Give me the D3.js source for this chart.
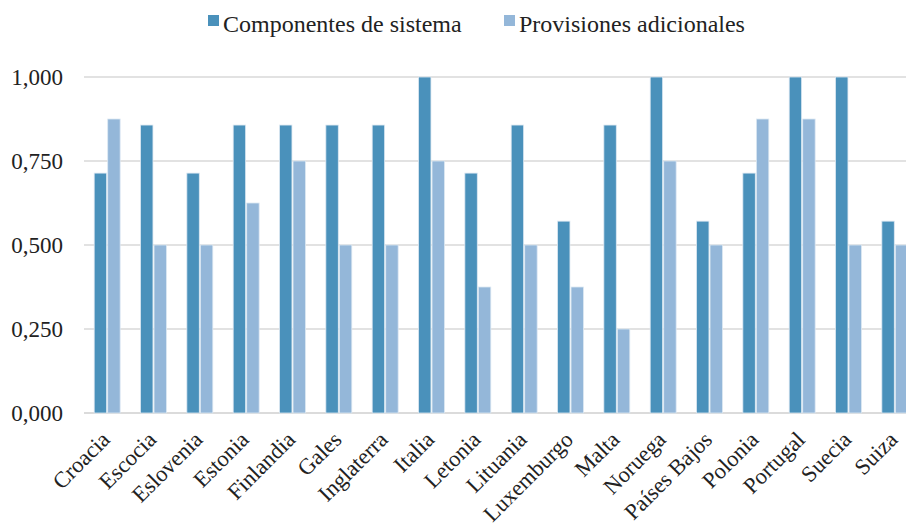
<!DOCTYPE html>
<html>
<head>
<meta charset="utf-8">
<script src="https://cdn.jsdelivr.net/npm/d3@7/dist/d3.min.js"></script>
<style>
  body { margin: 0; background: #fff; }
  svg text { font-family: "Liberation Serif", "DejaVu Serif", serif; }
</style>
</head>
<body>
<div id="plot"></div>
<script>
// Data
const countries = ["Croacia", "Escocia", "Eslovenia", "Estonia", "Finlandia", "Gales",
    "Inglaterra", "Italia", "Letonia", "Lituania", "Luxemburgo", "Malta", "Noruega",
    "Países Bajos", "Polonia", "Portugal", "Suecia", "Suiza"];
const seriesNames = ["Componentes de sistema", "Provisiones adicionales"];
const componentes = [0.714, 0.857, 0.714, 0.857, 0.857, 0.857, 0.857, 1.0, 0.714,
    0.857, 0.571, 0.857, 1.0, 0.571, 0.714, 1.0, 1.0, 0.571];
const provisiones = [0.875, 0.5, 0.5, 0.625, 0.75, 0.5, 0.5, 0.75, 0.375,
    0.5, 0.375, 0.25, 0.75, 0.5, 0.875, 0.875, 0.5, 0.5];
const yTicks = [0, 0.25, 0.5, 0.75, 1];

const colors = ["#4a91bb", "#94b7d9"];
const W = 906, H = 527;
const margin = { top: 77, left: 84, bottom: 114 };
const plotRight = 918;

const svg = d3.select("#plot").append("svg")
    .attr("width", W)
    .attr("height", H)
    .style("display", "block");

const x = d3.scaleBand()
    .domain(countries)
    .range([margin.left, plotRight])
    .paddingInner(0.44)
    .paddingOuter(0.22);

const xSub = d3.scaleBand()
    .domain(seriesNames)
    .range([0, x.bandwidth()])
    .paddingInner(0.08);

const y = d3.scaleLinear()
    .domain([0, 1])
    .range([H - margin.bottom, margin.top]);

// Gridlines
svg.append("g")
    .selectAll("line")
    .data(yTicks)
    .enter()
    .append("line")
    .attr("x1", margin.left)
    .attr("x2", W)
    .attr("y1", d => y(d))
    .attr("y2", d => y(d))
    .attr("stroke", d => d === 0 ? "#cfcfcf" : "#d9d9d9")
    .attr("stroke-width", 1.5);

// Y axis labels
const fmt = d => d3.format(".3f")(d).replace(".", ",");
svg.append("g")
    .selectAll("text")
    .data(yTicks)
    .enter()
    .append("text")
    .attr("x", 63)
    .attr("y", d => y(d))
    .attr("dy", "0.34em")
    .attr("text-anchor", "end")
    .style("font-size", "23px")
    .style("fill", "#222")
    .text(fmt);

// Bars
const rows = countries.map((c, i) => ({ country: c, values: [componentes[i], provisiones[i]] }));
const groups = svg.append("g")
    .selectAll("g")
    .data(rows)
    .enter()
    .append("g")
    .attr("transform", d => "translate(" + x(d.country) + ",0)");

groups.selectAll("rect")
    .data(d => d.values.map((v, k) => ({ key: seriesNames[k], value: v, k: k })))
    .enter()
    .append("rect")
    .attr("x", d => xSub(d.key))
    .attr("y", d => y(d.value))
    .attr("width", xSub.bandwidth())
    .attr("height", d => y(0) - y(d.value))
    .attr("fill", d => colors[d.k])
    .attr("stroke", "#dde8f2")
    .attr("stroke-width", 0.8);

// X axis labels
svg.append("g")
    .selectAll("text")
    .data(countries)
    .enter()
    .append("text")
    .attr("transform", d => "translate(" + (x(d) + x.bandwidth() / 2 + 4) + "," + (y(0) + 28) + ") rotate(-45)")
    .attr("text-anchor", "end")
    .style("font-size", "22.5px")
    .style("fill", "#222")
    .text(d => d);

// Legend
const legend = svg.append("g");
const legendX = [208, 504];
seriesNames.forEach((name, k) => {
    legend.append("rect")
        .attr("x", legendX[k])
        .attr("y", 15)
        .attr("width", 11)
        .attr("height", 11)
        .attr("fill", colors[k]);
    legend.append("text")
        .attr("x", legendX[k] + 15)
        .attr("y", 32)
        .style("font-size", "24px")
        .style("fill", "#222")
        .text(name);
});
</script>
</body>
</html>
